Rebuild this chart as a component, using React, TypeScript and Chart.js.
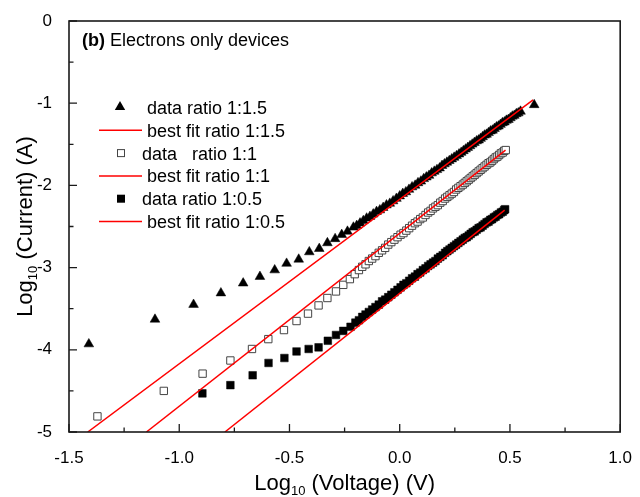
import { useEffect, useRef } from 'react';
import { Chart, registerables } from 'chart.js';
Chart.register(...registerables);

const FONT = '"Liberation Sans", Arial, sans-serif';

// ---- data (log10 V, log10 I) ----
const tri15X = [-1.41, -1.11, -0.935, -0.811, -0.71, -0.634, -0.567, -0.513, -0.458, -0.41, -0.365, -0.328, -0.293, -0.263, -0.237,
  -0.21, -0.195, -0.18, -0.165, -0.15, -0.135, -0.12, -0.105, -0.09, -0.075, -0.06, -0.045, -0.03, -0.015, 0.0, 0.014, 0.028, 0.042,
  0.056, 0.07, 0.083, 0.096, 0.109, 0.121, 0.133, 0.145, 0.157, 0.169, 0.181, 0.192, 0.203, 0.214, 0.225, 0.236, 0.247, 0.258, 0.269,
  0.279, 0.289, 0.299, 0.309, 0.319, 0.329, 0.339, 0.349, 0.358, 0.367, 0.376, 0.385, 0.394, 0.403, 0.412, 0.421, 0.43, 0.439, 0.448,
  0.457, 0.466, 0.475, 0.484, 0.493, 0.502, 0.511, 0.52, 0.529, 0.538, 0.548, 0.61];
const tri15Y = [-3.93, -3.63, -3.45, -3.31, -3.19, -3.11, -3.03, -2.95, -2.9, -2.81, -2.77, -2.7, -2.65, -2.6, -2.56,
  -2.51, -2.49, -2.46, -2.43, -2.4, -2.38, -2.35, -2.32, -2.3, -2.27, -2.24, -2.22, -2.19, -2.16, -2.13, -2.1, -2.08, -2.05,
  -2.02, -2.0, -1.97, -1.95, -1.92, -1.9, -1.88, -1.85, -1.83, -1.81, -1.79, -1.76, -1.74, -1.72, -1.7, -1.68, -1.66, -1.64, -1.62,
  -1.6, -1.58, -1.56, -1.54, -1.52, -1.5, -1.48, -1.46, -1.45, -1.43, -1.41, -1.39, -1.38, -1.36, -1.34, -1.33, -1.31, -1.29, -1.28,
  -1.26, -1.24, -1.23, -1.21, -1.2, -1.18, -1.16, -1.15, -1.13, -1.12, -1.1, -1.02];

const sq1X = [-1.371, -1.07, -0.894, -0.768, -0.67, -0.596, -0.525, -0.468, -0.416, -0.368, -0.328, -0.289, -0.256, -0.226, -0.204,
  -0.185, -0.17, -0.155, -0.14, -0.125, -0.11, -0.095, -0.08, -0.066, -0.052, -0.038, -0.024, -0.01, 0.004, 0.017, 0.03, 0.043, 0.056,
  0.069, 0.081, 0.093, 0.105, 0.117, 0.129, 0.14, 0.151, 0.162, 0.173, 0.184, 0.195, 0.206, 0.216, 0.226, 0.236, 0.246, 0.256, 0.266,
  0.276, 0.286, 0.295, 0.304, 0.313, 0.322, 0.331, 0.34, 0.349, 0.358, 0.367, 0.376, 0.385, 0.394, 0.403, 0.411, 0.419, 0.427, 0.435,
  0.443, 0.451, 0.459, 0.467, 0.474, 0.481];
const sq1Y = [-4.81, -4.5, -4.29, -4.13, -3.99, -3.87, -3.76, -3.65, -3.56, -3.46, -3.37, -3.29, -3.21, -3.14, -3.08,
  -3.03, -2.99, -2.96, -2.92, -2.89, -2.86, -2.82, -2.79, -2.76, -2.72, -2.69, -2.66, -2.63, -2.6, -2.58, -2.55, -2.52, -2.49,
  -2.46, -2.44, -2.41, -2.39, -2.36, -2.33, -2.31, -2.28, -2.26, -2.24, -2.21, -2.19, -2.16, -2.14, -2.12, -2.1, -2.08, -2.05, -2.03,
  -2.01, -1.99, -1.97, -1.95, -1.93, -1.91, -1.89, -1.87, -1.85, -1.83, -1.81, -1.79, -1.77, -1.75, -1.73, -1.72, -1.7, -1.68, -1.66,
  -1.65, -1.63, -1.61, -1.6, -1.58, -1.57];

const sq05X = [-0.895, -0.768, -0.667, -0.595, -0.523, -0.468, -0.413, -0.368, -0.326, -0.289, -0.256, -0.223, -0.201,
  -0.185, -0.17, -0.155, -0.14, -0.125, -0.11, -0.095, -0.08, -0.066, -0.052, -0.038, -0.024, -0.01, 0.004, 0.017, 0.03, 0.043, 0.056,
  0.069, 0.081, 0.093, 0.105, 0.117, 0.129, 0.14, 0.151, 0.162, 0.173, 0.184, 0.195, 0.206, 0.216, 0.226, 0.236, 0.246, 0.256, 0.266,
  0.276, 0.286, 0.295, 0.304, 0.313, 0.322, 0.331, 0.34, 0.349, 0.358, 0.367, 0.376, 0.385, 0.394, 0.403, 0.411, 0.419, 0.427, 0.435,
  0.443, 0.451, 0.459, 0.467, 0.474, 0.478];
const sq05Y = [-4.53, -4.43, -4.31, -4.16, -4.1, -4.02, -3.99, -3.97, -3.89, -3.82, -3.77, -3.72, -3.67,
  -3.64, -3.6, -3.57, -3.54, -3.51, -3.48, -3.45, -3.41, -3.39, -3.36, -3.33, -3.3, -3.27, -3.24, -3.21, -3.19, -3.16, -3.13,
  -3.11, -3.08, -3.06, -3.03, -3.01, -2.98, -2.96, -2.94, -2.92, -2.89, -2.87, -2.85, -2.82, -2.8, -2.78, -2.76, -2.74, -2.72, -2.7,
  -2.68, -2.66, -2.64, -2.63, -2.61, -2.59, -2.57, -2.56, -2.54, -2.52, -2.51, -2.49, -2.47, -2.45, -2.44, -2.42, -2.41, -2.39, -2.38,
  -2.36, -2.35, -2.33, -2.32, -2.3, -2.29];

// best fit lines (end points)
const fit15X = [-1.415, 0.605];
const fit15Y = [-5, -0.96];
const fit1X = [-1.149, 0.48];
const fit1Y = [-5, -1.57];
const fit05X = [-0.793, 0.476];
const fit05Y = [-5, -2.3];

const legendLabels = ['data ratio 1:1.5', 'best fit ratio 1:1.5', 'data   ratio 1:1', 'best fit ratio 1:1', 'data ratio 1:0.5', 'best fit ratio 1:0.5'];
const panelTitleBold = '(b)';
const panelTitle = ' Electrons only devices';
const xTitle = ['Log', '10', ' (Voltage) (V)'];
const yTitle = ['Log', '10', ' (Current) (A)'];

const xMajor = [-1.5, -1.0, -0.5, 0.0, 0.5, 1.0];
const xMinor = [-1.25, -0.75, -0.25, 0.25, 0.75];
const yMajor = [0, -1, -2, -3, -4, -5];
const yMinor = [-0.5, -1.5, -2.5, -3.5, -4.5];

const pts = (xs: number[], ys: number[]) => xs.map((x, i) => ({ x, y: ys[i] }));

function drawTri(ctx: CanvasRenderingContext2D, x: number, y: number, r: number) {
  ctx.beginPath();
  ctx.moveTo(x, y - r);
  ctx.lineTo(x + r * 0.866, y + r * 0.5);
  ctx.lineTo(x - r * 0.866, y + r * 0.5);
  ctx.closePath();
  ctx.fill();
}

const framePlugin = {
  id: 'frame',
  afterDatasetsDraw(chart: any) {
    const { ctx, chartArea: a, scales } = chart;
    const xs = scales.x, ys = scales.y;
    ctx.save();
    ctx.strokeStyle = '#1a1a1a';
    ctx.lineWidth = 1.6;
    ctx.strokeRect(a.left, a.top, a.right - a.left, a.bottom - a.top);
    ctx.lineWidth = 1.3;
    ctx.beginPath();
    xMajor.forEach((v) => { const p = xs.getPixelForValue(v); ctx.moveTo(p, a.bottom); ctx.lineTo(p, a.bottom - 8); });
    xMinor.forEach((v) => { const p = xs.getPixelForValue(v); ctx.moveTo(p, a.bottom); ctx.lineTo(p, a.bottom - 4.5); });
    yMajor.forEach((v) => { const p = ys.getPixelForValue(v); ctx.moveTo(a.left, p); ctx.lineTo(a.left + 8, p); });
    yMinor.forEach((v) => { const p = ys.getPixelForValue(v); ctx.moveTo(a.left, p); ctx.lineTo(a.left + 4.5, p); });
    ctx.stroke();
    ctx.restore();
  },
  afterDraw(chart: any) {
    const { ctx, chartArea: a } = chart;
    ctx.save();
    ctx.fillStyle = '#000';
    ctx.textBaseline = 'alphabetic';
    // panel title
    ctx.font = `bold 18px ${FONT}`;
    ctx.fillText(panelTitleBold, 82, 46);
    const bw = ctx.measureText(panelTitleBold).width;
    ctx.font = `18px ${FONT}`;
    ctx.fillText(panelTitle, 82 + bw, 46);

    // legend
    const rowY0 = 114;
    const dy = 22.8;
    legendLabels.forEach((lab, i) => {
      const by = rowY0 + i * dy;
      const cy = by - 6.5;
      const isFit = i % 2 === 1;
      let tx = 147;
      if (isFit) {
        ctx.strokeStyle = '#ff0000';
        ctx.lineWidth = 1.5;
        ctx.beginPath();
        ctx.moveTo(99, cy);
        ctx.lineTo(142, cy);
        ctx.stroke();
      } else if (i === 0) {
        ctx.fillStyle = '#000';
        drawTri(ctx, 120, cy - 0.5, 6);
      } else if (i === 2) {
        ctx.fillStyle = '#fff';
        ctx.fillRect(117.5, cy - 3.5, 7, 7);
        ctx.strokeStyle = '#444';
        ctx.lineWidth = 1;
        ctx.strokeRect(117.5, cy - 3.5, 7, 7);
        tx = 142;
      } else {
        ctx.fillStyle = '#000';
        ctx.fillRect(117, cy - 4, 8, 8);
        tx = 142;
      }
      ctx.fillStyle = '#000';
      ctx.font = `18px ${FONT}`;
      ctx.fillText(lab, tx, by);
    });

    // x title
    const big = `22px ${FONT}`;
    const small = `13px ${FONT}`;
    ctx.font = big;
    const w0 = ctx.measureText(xTitle[0]).width;
    const w2 = ctx.measureText(xTitle[2]).width;
    ctx.font = small;
    const w1 = ctx.measureText(xTitle[1]).width;
    const total = w0 + w1 + w2;
    let x = (a.left + a.right) / 2 - total / 2;
    const bl = 490;
    ctx.font = big; ctx.fillText(xTitle[0], x, bl); x += w0;
    ctx.font = small; ctx.fillText(xTitle[1], x, bl + 5); x += w1;
    ctx.font = big; ctx.fillText(xTitle[2], x, bl);

    // y title
    ctx.save();
    ctx.translate(32, (a.top + a.bottom) / 2);
    ctx.rotate(-Math.PI / 2);
    ctx.font = big;
    const v0 = ctx.measureText(yTitle[0]).width;
    const v2 = ctx.measureText(yTitle[2]).width;
    ctx.font = small;
    const v1 = ctx.measureText(yTitle[1]).width;
    let t = -(v0 + v1 + v2) / 2;
    ctx.font = big; ctx.fillText(yTitle[0], t, 0); t += v0;
    ctx.font = small; ctx.fillText(yTitle[1], t, 5); t += v1;
    ctx.font = big; ctx.fillText(yTitle[2], t, 0);
    ctx.restore();

    ctx.restore();
  },
};

export default function App() {
  const ref = useRef<HTMLCanvasElement>(null);
  useEffect(() => {
    if (!ref.current) return;
    const chart = new Chart(ref.current, {
      type: 'scatter',
      data: {
        datasets: [
          { label: legendLabels[1], data: pts(fit15X, fit15Y), showLine: true, borderColor: '#ff0000', borderWidth: 1.5, pointRadius: 0, order: 0 },
          { label: legendLabels[3], data: pts(fit1X, fit1Y), showLine: true, borderColor: '#ff0000', borderWidth: 1.5, pointRadius: 0, order: 0 },
          { label: legendLabels[5], data: pts(fit05X, fit05Y), showLine: true, borderColor: '#ff0000', borderWidth: 1.5, pointRadius: 0, order: 0 },
          { label: legendLabels[0], data: pts(tri15X, tri15Y), pointStyle: 'triangle', pointRadius: 5.6, backgroundColor: '#000', borderColor: '#000', borderWidth: 0.5, order: 1 },
          { label: legendLabels[2], data: pts(sq1X, sq1Y), pointStyle: 'rect', pointRadius: 5.2, backgroundColor: '#fff', borderColor: '#444', borderWidth: 1, order: 1 },
          { label: legendLabels[4], data: pts(sq05X, sq05Y), pointStyle: 'rect', pointRadius: 5.4, backgroundColor: '#000', borderColor: '#000', borderWidth: 0.5, order: 1 },
        ],
      },
      options: {
        responsive: false,
        animation: false,
        layout: { padding: { top: 21, right: 13, left: 0, bottom: 0 } },
        plugins: { legend: { display: false }, tooltip: { enabled: false } },
        scales: {
          x: {
            type: 'linear', min: -1.5, max: 1.0,
            grid: { display: false }, border: { display: false },
            ticks: { stepSize: 0.5, padding: 8, color: '#000', font: { family: FONT, size: 17 }, callback: (v: any) => Number(v).toFixed(1) },
            afterFit: (s: any) => { s.height = 65; },
          },
          y: {
            type: 'linear', min: -5, max: 0,
            grid: { display: false }, border: { display: false },
            ticks: { stepSize: 1, padding: 9, color: '#000', font: { family: FONT, size: 17 }, callback: (v: any) => String(v) },
            afterFit: (s: any) => { s.width = 69; },
          },
        },
      },
      plugins: [framePlugin],
    } as any);
    return () => chart.destroy();
  }, []);
  return (
    <div style={{ position: 'absolute', left: 0, top: 0, width: 640, height: 497, background: '#fff' }}>
      <canvas ref={ref} width={640} height={497} />
    </div>
  );
}
